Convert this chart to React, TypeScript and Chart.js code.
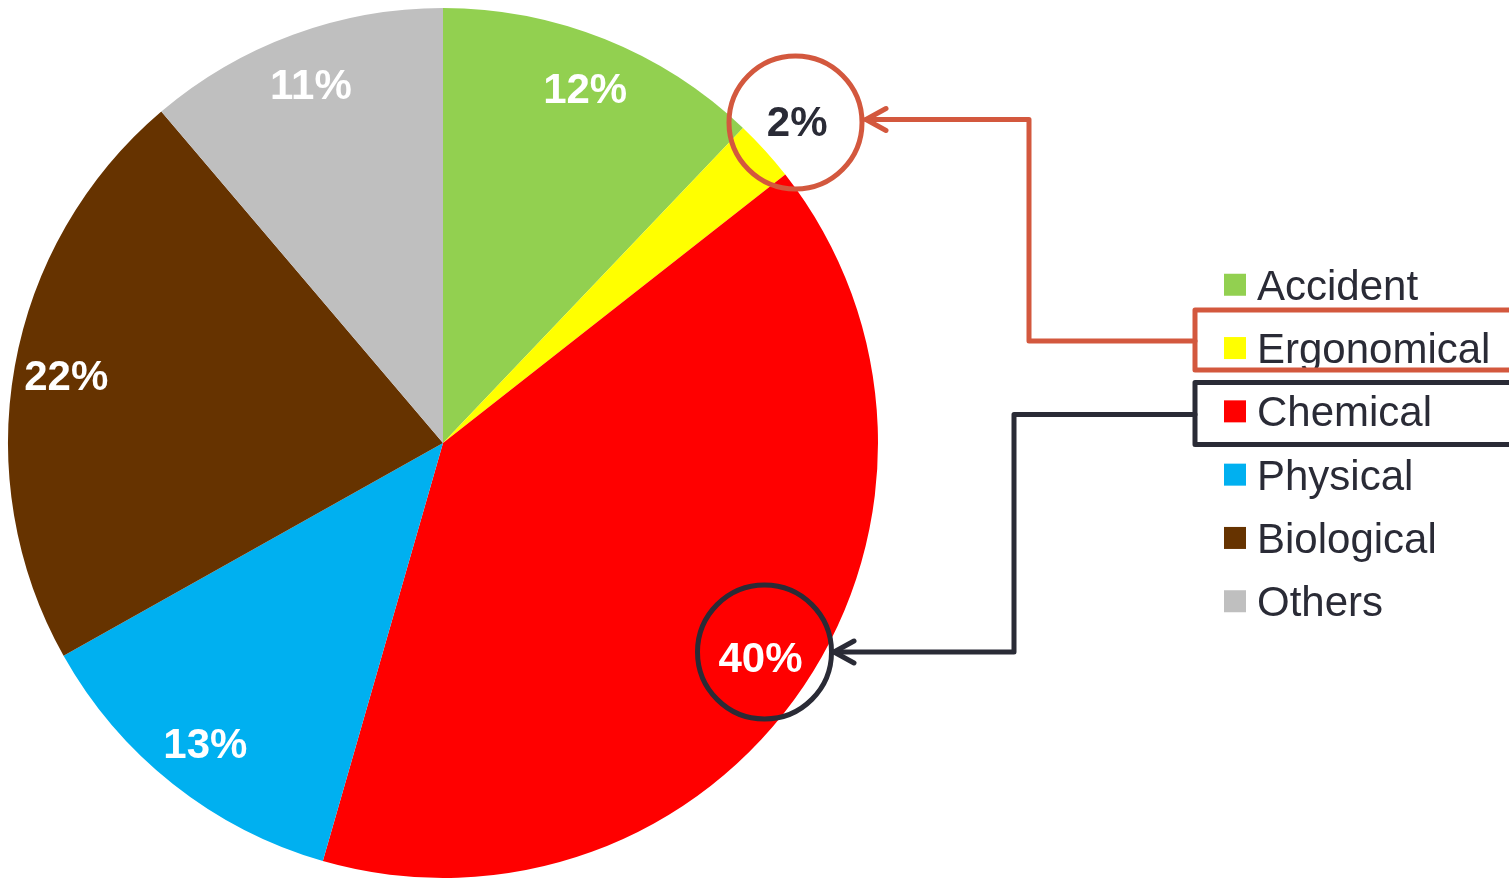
import React, { useEffect, useRef } from "react";
import { Chart, registerables } from "chart.js";

Chart.register(...registerables);

const categories = ["Accident", "Ergonomical", "Chemical", "Physical", "Biological", "Others"];
const shares = [12.1, 2.3, 40.0, 12.4, 21.9, 11.2];
const shareLabels = ["12%", "2%", "40%", "13%", "22%", "11%"];
const sliceColors = ["#92d050", "#ffff00", "#ff0000", "#00b0f0", "#663300", "#bfbfbf"];

const W = 1509;
const H = 880;
const FONT = '"Liberation Sans", Arial, Helvetica, sans-serif';
const TEXT_DARK = "#2a2b36";
const ORANGE = "#d3583e";
const DARK = "#2a2b36";

const overlayPlugin = {
  id: "overlay",
  afterDatasetsDraw(chart: any) {
    const ctx = chart.ctx as CanvasRenderingContext2D;
    const meta = chart.getDatasetMeta(0);
    const fontSize = 42;
    const capHalf = fontSize * 0.716 / 2;

    // slice labels
    ctx.save();
    ctx.textAlign = "center";
    ctx.textBaseline = "alphabetic";
    ctx.font = `bold ${fontSize}px ${FONT}`;
    meta.data.forEach((arc: any, i: number) => {
      const p = arc.getProps(["x", "y", "startAngle", "endAngle", "outerRadius"], true);
      const mid = (p.startAngle + p.endAngle) / 2;
      const small = shares[i] < 5;
      const r = p.outerRadius * (small ? 1.1 : 0.88);
      const lx = p.x + Math.cos(mid) * r;
      const ly = p.y + Math.sin(mid) * r;
      ctx.fillStyle = small ? TEXT_DARK : "#ffffff";
      ctx.fillText(shareLabels[i], lx, ly + capHalf);
    });
    ctx.restore();

    // legend
    ctx.save();
    ctx.font = `${fontSize}px ${FONT}`;
    ctx.textAlign = "left";
    ctx.textBaseline = "alphabetic";
    const rowGap = 63.3;
    const midY = 443;
    categories.forEach((name, i) => {
      const cy = midY + (i - (categories.length - 1) / 2) * rowGap;
      ctx.fillStyle = sliceColors[i];
      ctx.fillRect(1224, cy - 11, 22, 22);
      ctx.fillStyle = TEXT_DARK;
      ctx.fillText(name, 1257, cy + capHalf);
    });
    ctx.restore();

    // annotations
    ctx.save();
    ctx.lineWidth = 5;
    ctx.lineJoin = "round";
    ctx.lineCap = "round";

    const arrow = (color: string, pts: number[][], tipX: number, tipY: number) => {
      ctx.strokeStyle = color;
      ctx.beginPath();
      ctx.moveTo(pts[0][0], pts[0][1]);
      for (let k = 1; k < pts.length; k++) ctx.lineTo(pts[k][0], pts[k][1]);
      ctx.lineTo(tipX, tipY);
      ctx.stroke();
      ctx.beginPath();
      ctx.moveTo(tipX + 20, tipY - 11);
      ctx.lineTo(tipX, tipY);
      ctx.lineTo(tipX + 20, tipY + 11);
      ctx.stroke();
    };

    // orange: Ergonomical
    ctx.strokeStyle = ORANGE;
    ctx.beginPath();
    ctx.moveTo(1530, 310);
    ctx.lineTo(1195, 310);
    ctx.lineTo(1195, 370);
    ctx.lineTo(1530, 370);
    ctx.stroke();
    ctx.beginPath();
    ctx.arc(795.5, 122.5, 66.5, 0, Math.PI * 2);
    ctx.stroke();
    arrow(ORANGE, [[1195, 341], [1029, 341], [1029, 119.5]], 866, 119.5);

    // dark: Chemical
    ctx.strokeStyle = DARK;
    ctx.beginPath();
    ctx.moveTo(1530, 382.5);
    ctx.lineTo(1195, 382.5);
    ctx.lineTo(1195, 444.5);
    ctx.lineTo(1530, 444.5);
    ctx.stroke();
    ctx.beginPath();
    ctx.arc(764.5, 652, 67, 0, Math.PI * 2);
    ctx.stroke();
    arrow(DARK, [[1195, 414.5], [1014, 414.5], [1014, 652]], 834, 652);
    ctx.restore();
  },
};

export default function App() {
  const canvasRef = useRef<HTMLCanvasElement | null>(null);

  useEffect(() => {
    if (!canvasRef.current) return;
    const chart = new Chart(canvasRef.current, {
      type: "pie",
      data: {
        labels: categories,
        datasets: [
          {
            data: shares,
            backgroundColor: sliceColors,
            borderWidth: 0,
          },
        ],
      },
      options: {
        responsive: false,
        animation: false,
        layout: { padding: { left: 8, top: 8, right: W - 878, bottom: 2 } },
        plugins: {
          legend: { display: false },
          tooltip: { enabled: false },
        },
      },
      plugins: [overlayPlugin],
    });
    return () => chart.destroy();
  }, []);

  return (
    <div style={{ position: "absolute", left: 0, top: 0, width: W, height: H, background: "#ffffff" }}>
      <canvas ref={canvasRef} width={W} height={H} style={{ display: "block" }} />
    </div>
  );
}
